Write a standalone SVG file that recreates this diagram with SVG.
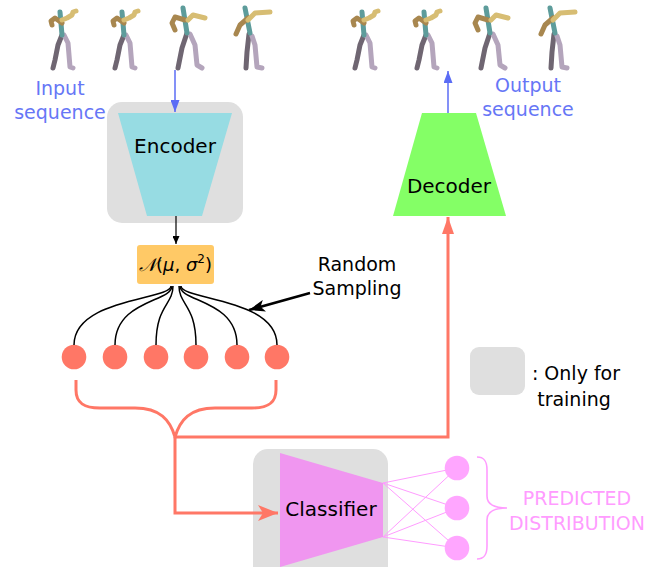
<svg xmlns="http://www.w3.org/2000/svg" width="648" height="567" viewBox="0 0 648 567">
  <style>
    text { font-family: "DejaVu Sans", "Liberation Sans", sans-serif; }
    .node { font-size: 20px; fill: #000; text-anchor: middle; }
    .note { font-size: 19px; fill: #000; text-anchor: middle; }
    .seq { font-size: 19px; fill: #6676f6; text-anchor: middle; }
    .dist { font-size: 19px; fill: #ff9cff; text-anchor: middle; }
    .train { fill: #dfdfdf; }
    .limb { fill: none; stroke-width: 5; stroke-linejoin: round; stroke-linecap: round; }
    .torso { stroke: #5d9c9b; }
    .armL { stroke: #a8874f; }
    .armR { stroke: #d7bd73; }
    .legL { stroke: #6f6672; }
    .legR { stroke: #b4a5bc; }
    .tree { fill: none; stroke: #000; stroke-width: 1.5; }
    .salmon { fill: none; stroke: #ff7766; stroke-width: 3; }
    .fan { stroke: #ff9cff; stroke-width: 1; fill: none; }
  </style>
  <defs>
    <marker id="ahBlue" markerWidth="12" markerHeight="9" refX="12" refY="4.5" orient="auto" markerUnits="userSpaceOnUse">
      <path d="M0 0 L12 4.5 L0 9 z" fill="#5b6cf5"/>
    </marker>
    <marker id="ahBlack" markerWidth="8" markerHeight="7" refX="8" refY="3.5" orient="auto" markerUnits="userSpaceOnUse">
      <path d="M0 0 L8 3.5 L0 7 z" fill="#000"/>
    </marker>
    <marker id="ahSample" markerWidth="16" markerHeight="12" refX="16" refY="6" orient="auto" markerUnits="userSpaceOnUse">
      <path d="M0 0 L16 6 L0 12 L4 6 z" fill="#000"/>
    </marker>
    <marker id="ahSalmonS" markerWidth="17" markerHeight="12" refX="17" refY="6" orient="auto" markerUnits="userSpaceOnUse">
      <path d="M0 0 L17 6 L0 12 z" fill="#ff7766"/>
    </marker>
    <marker id="ahSalmonL" markerWidth="20" markerHeight="16" refX="20" refY="8" orient="auto" markerUnits="userSpaceOnUse">
      <path d="M0 0 L20 8 L0 16 L5 8 z" fill="#ff7766"/>
    </marker>
    <!-- stick figure poses, origin at the hip -->
    <g id="poseA">
      <path class="limb legL" d="M-1 0 L-5 10 L-8 25 L-10 33"/>
      <path class="limb legR" d="M1 0 L5 8 L7 32 L10 33"/>
      <path class="limb torso" d="M-3 -23 L-1 0"/>
      <path class="limb armL" d="M-1 -12 L-8 -17 L-12 -14 L-11 -10"/>
      <path class="limb armR" d="M-1 -15 L4 -17 L9 -20 L10 -23 L13 -24"/>
    </g>
    <g id="poseC">
      <path class="limb legL" d="M-1 0 L-6 15 L-10 35"/>
      <path class="limb legR" d="M2 1 L7 12 L9 32 L14 35"/>
      <path class="limb torso" d="M-5 -25 L-1 0"/>
      <path class="limb armL" d="M-3 -13 L-13 -16 L-16 -10 L-13 -3"/>
      <path class="limb armR" d="M0 -13 L5 -18 L17 -15"/>
    </g>
    <g id="poseD">
      <path class="limb legL" d="M-1 1 L-3 19 L-4 35"/>
      <path class="limb legR" d="M2 3 L5 12 L7 34 L12 35"/>
      <path class="limb torso" d="M-5 -25 L0 0"/>
      <path class="limb armL" d="M-2 -15 L-10 -8 L-14 1"/>
      <path class="limb armR" d="M-2 -13 L5 -20 L20 -21"/>
    </g>
  </defs>

  <!-- input sequence -->
  <g id="input-sequence">
    <use href="#poseA" x="63" y="35"/>
    <use href="#poseA" x="125" y="35"/>
    <use href="#poseC" x="188" y="33"/>
    <use href="#poseD" x="250" y="33"/>
    <text class="seq" x="60" y="95">Input</text>
    <text class="seq" x="60" y="119">sequence</text>
  </g>

  <!-- output sequence -->
  <g id="output-sequence">
    <use href="#poseA" x="365" y="35"/>
    <use href="#poseA" x="427" y="35"/>
    <use href="#poseC" x="491" y="33"/>
    <use href="#poseD" x="555" y="33"/>
    <text class="seq" x="528" y="92">Output</text>
    <text class="seq" x="528" y="116">sequence</text>
  </g>

  <g id="encoder">
    <rect class="train" x="107" y="102" width="136" height="121" rx="15"/>
    <polygon points="118,113 232,113 202,216 147,216" fill="#97dce3"/>
    <text class="node" x="175" y="153">Encoder</text>
  </g>

  <g id="decoder">
    <polygon points="422,113 476,113 506,216 393,216" fill="#84ff66"/>
    <text class="node" x="449" y="193">Decoder</text>
  </g>

  <g id="latent">
    <rect x="137" y="245" width="77" height="39" rx="3" fill="#ffc966"/>
    <text x="175.5" y="271" font-family="'DejaVu Serif', 'Liberation Serif', serif" font-size="18" text-anchor="middle" fill="#000"><tspan font-style="italic">𝒩</tspan>(<tspan font-style="italic">μ</tspan>, <tspan font-style="italic">σ</tspan><tspan font-size="12" dy="-8">2</tspan><tspan dy="8">)</tspan></text>
  </g>

  <g id="samples" fill="#ff7766">
    <circle cx="74" cy="357" r="12.3"/>
    <circle cx="115" cy="357" r="12.3"/>
    <circle cx="156" cy="357" r="12.3"/>
    <circle cx="196" cy="357" r="12.3"/>
    <circle cx="237" cy="357" r="12.3"/>
    <circle cx="277" cy="357" r="12.3"/>
  </g>

  <g id="sampling-label">
    <text class="note" x="357" y="271">Random</text>
    <text class="note" x="357" y="295">Sampling</text>
  </g>

  <g id="legend">
    <rect class="train" x="470" y="347" width="55" height="48" rx="9"/>
    <text class="note" x="576" y="380">: Only for</text>
    <text class="note" x="574" y="406">training</text>
  </g>

  <g id="classifier">
    <rect class="train" x="253" y="449" width="135" height="140" rx="15"/>
    <polygon points="280,453 383,483 383,537 280,567" fill="#f096f0"/>
    <text class="node" x="331" y="516">Classifier</text>
  </g>

  <g id="connectors">
    <line x1="175" y1="70" x2="175" y2="112" stroke="#5b6cf5" stroke-width="1.5" marker-end="url(#ahBlue)"/>
    <line x1="448" y1="113" x2="448" y2="71" stroke="#5b6cf5" stroke-width="1.5" marker-end="url(#ahBlue)"/>
    <line x1="176" y1="216" x2="176" y2="244" stroke="#000" stroke-width="1.2" marker-end="url(#ahBlack)"/>
    <!-- sampling fan from the latent box -->
    <path class="tree" d="M171 286 C171 300, 74 298, 74 345"/>
    <path class="tree" d="M172 286 C172 302, 115 300, 115 345"/>
    <path class="tree" d="M173 286 C173 305, 156 305, 156 345"/>
    <path class="tree" d="M179 286 C179 305, 196 305, 196 345"/>
    <path class="tree" d="M180 286 C180 302, 237 300, 237 345"/>
    <path class="tree" d="M181 286 C181 300, 277 298, 277 345"/>
    <line x1="310" y1="293" x2="249" y2="310" stroke="#000" stroke-width="2.5" marker-end="url(#ahSample)"/>
    <!-- brace gathering the samples -->
    <path class="salmon" d="M76 380 L76 390 C76 403, 84 408, 100 408 L135 408 C160 408, 170 420, 175 437 C180 420, 190 408, 215 408 L252 408 C268 408, 276 403, 276 390 L276 380"/>
    <path class="salmon" d="M175 437 L448 437 L448 217" marker-end="url(#ahSalmonS)"/>
    <path class="salmon" d="M175 437 L175 513 L278 513" marker-end="url(#ahSalmonL)"/>
    <!-- classifier output layer -->
    <path class="fan" d="M383 483 L457 468 M383 483 L457 508 M383 483 L457 548 M383 537 L457 468 M383 537 L457 508 M383 537 L457 548"/>
    <path d="M477 457 C485 457, 487 462, 487 470 L487 496 C487 503, 492 508, 507 508 C492 508, 487 513, 487 520 L487 546 C487 554, 485 559, 477 559" fill="none" stroke="#ff9cff" stroke-width="1.6"/>
  </g>

  <g id="prediction">
    <g fill="#ffa6ff">
      <circle cx="457" cy="468" r="12.3"/>
      <circle cx="457" cy="508" r="12.3"/>
      <circle cx="457" cy="548" r="12.3"/>
    </g>
    <text class="dist" x="577" y="505">PREDICTED</text>
    <text class="dist" x="577" y="530">DISTRIBUTION</text>
  </g>
</svg>
